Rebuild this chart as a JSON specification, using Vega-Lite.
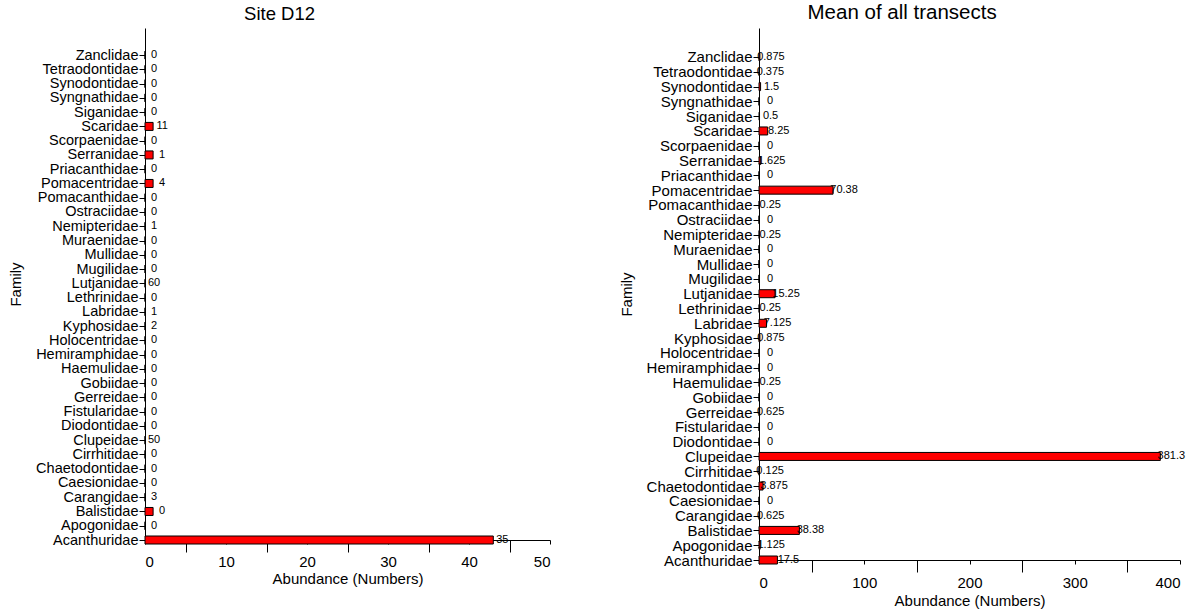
{
  "$schema": "https://vega.github.io/schema/vega-lite/v6.json",
  "padding": {"left": 8, "top": 2, "right": 3, "bottom": 3},
  "spacing": 68,
  "config": {
    "font": "Liberation Sans",
    "view": {"stroke": null},
    "axis": {
      "domainColor": "#000", "tickColor": "#000", "labelColor": "#000", "titleColor": "#000",
      "labelFont": "Liberation Sans", "titleFont": "Liberation Sans",
      "labelFontSize": 15, "titleFontSize": 15, "titleFontWeight": "normal", "grid": false
    },
    "title": {"font": "Liberation Sans", "fontWeight": "normal", "color": "#000", "frame": "bounds", "anchor": "middle"}
  },
  "datasets": {
    "site": [
      {"family": "Zanclidae", "n": 0, "label": "0"},
      {"family": "Tetraodontidae", "n": 0, "label": "0"},
      {"family": "Synodontidae", "n": 0, "label": "0"},
      {"family": "Syngnathidae", "n": 0, "label": "0"},
      {"family": "Siganidae", "n": 0, "label": "0"},
      {"family": "Scaridae", "n": 1, "label": "11"},
      {"family": "Scorpaenidae", "n": 0, "label": "0"},
      {"family": "Serranidae", "n": 1, "label": "1"},
      {"family": "Priacanthidae", "n": 0, "label": "0"},
      {"family": "Pomacentridae", "n": 1, "label": "4"},
      {"family": "Pomacanthidae", "n": 0, "label": "0"},
      {"family": "Ostraciidae", "n": 0, "label": "0"},
      {"family": "Nemipteridae", "n": 0, "label": "1"},
      {"family": "Muraenidae", "n": 0, "label": "0"},
      {"family": "Mullidae", "n": 0, "label": "0"},
      {"family": "Mugilidae", "n": 0, "label": "0"},
      {"family": "Lutjanidae", "n": 0, "label": "60"},
      {"family": "Lethrinidae", "n": 0, "label": "0"},
      {"family": "Labridae", "n": 0, "label": "1"},
      {"family": "Kyphosidae", "n": 0, "label": "2"},
      {"family": "Holocentridae", "n": 0, "label": "0"},
      {"family": "Hemiramphidae", "n": 0, "label": "0"},
      {"family": "Haemulidae", "n": 0, "label": "0"},
      {"family": "Gobiidae", "n": 0, "label": "0"},
      {"family": "Gerreidae", "n": 0, "label": "0"},
      {"family": "Fistularidae", "n": 0, "label": "0"},
      {"family": "Diodontidae", "n": 0, "label": "0"},
      {"family": "Clupeidae", "n": 0, "label": "50"},
      {"family": "Cirrhitidae", "n": 0, "label": "0"},
      {"family": "Chaetodontidae", "n": 0, "label": "0"},
      {"family": "Caesionidae", "n": 0, "label": "0"},
      {"family": "Carangidae", "n": 0, "label": "3"},
      {"family": "Balistidae\u00a0", "n": 1, "label": "0"},
      {"family": "Apogonidae", "n": 0, "label": "0"},
      {"family": "Acanthuridae", "n": 43, "label": "35"}
    ],
    "mean": [
      {"family": "Zanclidae", "n": 0.875, "label": "0.875"},
      {"family": "Tetraodontidae", "n": 0.375, "label": "0.375"},
      {"family": "Synodontidae", "n": 1.5, "label": "1.5"},
      {"family": "Syngnathidae", "n": 0, "label": "0"},
      {"family": "Siganidae", "n": 0.5, "label": "0.5"},
      {"family": "Scaridae", "n": 8.25, "label": "8.25"},
      {"family": "Scorpaenidae", "n": 0, "label": "0"},
      {"family": "Serranidae", "n": 1.625, "label": "1.625"},
      {"family": "Priacanthidae", "n": 0, "label": "0"},
      {"family": "Pomacentridae", "n": 70.38, "label": "70.38"},
      {"family": "Pomacanthidae", "n": 0.25, "label": "0.25"},
      {"family": "Ostraciidae", "n": 0, "label": "0"},
      {"family": "Nemipteridae", "n": 0.25, "label": "0.25"},
      {"family": "Muraenidae", "n": 0, "label": "0"},
      {"family": "Mullidae", "n": 0, "label": "0"},
      {"family": "Mugilidae", "n": 0, "label": "0"},
      {"family": "Lutjanidae", "n": 15.25, "label": "15.25"},
      {"family": "Lethrinidae", "n": 0.25, "label": "0.25"},
      {"family": "Labridae", "n": 7.125, "label": "7.125"},
      {"family": "Kyphosidae", "n": 0.875, "label": "0.875"},
      {"family": "Holocentridae", "n": 0, "label": "0"},
      {"family": "Hemiramphidae", "n": 0, "label": "0"},
      {"family": "Haemulidae", "n": 0.25, "label": "0.25"},
      {"family": "Gobiidae", "n": 0, "label": "0"},
      {"family": "Gerreidae", "n": 0.625, "label": "0.625"},
      {"family": "Fistularidae", "n": 0, "label": "0"},
      {"family": "Diodontidae", "n": 0, "label": "0"},
      {"family": "Clupeidae", "n": 381.3, "label": "381.3"},
      {"family": "Cirrhitidae", "n": 0.125, "label": "0.125"},
      {"family": "Chaetodontidae", "n": 3.875, "label": "3.875"},
      {"family": "Caesionidae", "n": 0, "label": "0"},
      {"family": "Carangidae", "n": 0.625, "label": "0.625"},
      {"family": "Balistidae\u00a0", "n": 38.38, "label": "38.38"},
      {"family": "Apogonidae", "n": 1.125, "label": "1.125"},
      {"family": "Acanthuridae", "n": 17.5, "label": "17.5"}
    ]
  },
  "hconcat": [
    {
      "title": {"text": "Site D12", "offset": 5, "fontSize": 18.5},
      "width": 405,
      "height": 512,
      "data": {"name": "site"},
      "encoding": {
        "y": {
          "field": "family", "type": "nominal",
          "scale": {"type": "point", "padding": 0.95, "align": 1,
            "domain": ["Zanclidae","Tetraodontidae","Synodontidae","Syngnathidae","Siganidae","Scaridae","Scorpaenidae","Serranidae","Priacanthidae","Pomacentridae","Pomacanthidae","Ostraciidae","Nemipteridae","Muraenidae","Mullidae","Mugilidae","Lutjanidae","Lethrinidae","Labridae","Kyphosidae","Holocentridae","Hemiramphidae","Haemulidae","Gobiidae","Gerreidae","Fistularidae","Diodontidae","Clupeidae","Cirrhitidae","Chaetodontidae","Caesionidae","Carangidae","Balistidae\u00a0","Apogonidae","Acanthuridae"]},
          "axis": {"title": "Family", "tickSize": 6, "labelPadding": 1, "titlePadding": 12, "labelFontSize": 14.5}
        },
        "x": {
          "field": "n", "type": "quantitative",
          "scale": {"domain": [0, 50], "nice": false},
          "axis": {
            "title": "Abundance (Numbers)",
            "values": [0, 5, 10, 15, 20, 25, 30, 35, 40, 45, 50],
            "labelExpr": "datum.value % 10 === 0 ? datum.label : ''",
            "tickSize": {"condition": {"test": "datum.value % 10 !== 0", "value": 12}, "value": 4},
            "labelPadding": 10,
            "titlePadding": 2
          }
        }
      },
      "layer": [
        {"mark": {"type": "bar", "height": 8, "fill": "#ff0000", "stroke": "#000", "strokeWidth": 1}},
        {"mark": {"type": "text", "dx": 9, "align": "center", "baseline": "middle", "fontSize": 11, "fill": "#000"},
         "encoding": {"text": {"field": "label"}}}
      ]
    },
    {
      "title": {"text": "Mean of all transects", "offset": 5, "fontSize": 20.5},
      "width": 421,
      "height": 532,
      "data": {"name": "mean"},
      "encoding": {
        "y": {
          "field": "family", "type": "nominal",
          "scale": {"type": "point", "padding": 0.98, "align": 1,
            "domain": ["Zanclidae","Tetraodontidae","Synodontidae","Syngnathidae","Siganidae","Scaridae","Scorpaenidae","Serranidae","Priacanthidae","Pomacentridae","Pomacanthidae","Ostraciidae","Nemipteridae","Muraenidae","Mullidae","Mugilidae","Lutjanidae","Lethrinidae","Labridae","Kyphosidae","Holocentridae","Hemiramphidae","Haemulidae","Gobiidae","Gerreidae","Fistularidae","Diodontidae","Clupeidae","Cirrhitidae","Chaetodontidae","Caesionidae","Carangidae","Balistidae\u00a0","Apogonidae","Acanthuridae"]},
          "axis": {"title": "Family", "tickSize": 6, "labelPadding": 1, "titlePadding": 12}
        },
        "x": {
          "field": "n", "type": "quantitative",
          "scale": {"domain": [0, 400], "nice": false},
          "axis": {
            "title": "Abundance (Numbers)",
            "values": [0, 50, 100, 150, 200, 250, 300, 350, 400],
            "labelExpr": "datum.value % 100 === 0 ? datum.label : ''",
            "tickSize": {"condition": {"test": "datum.value % 100 !== 0", "value": 12}, "value": 4},
            "labelPadding": 11,
            "titlePadding": 3
          }
        }
      },
      "layer": [
        {"mark": {"type": "bar", "height": 8, "fill": "#ff0000", "stroke": "#000", "strokeWidth": 1}},
        {"mark": {"type": "text", "dx": 11, "align": "center", "baseline": "middle", "fontSize": 11, "fill": "#000"},
         "encoding": {"text": {"field": "label"}}}
      ]
    }
  ]
}
